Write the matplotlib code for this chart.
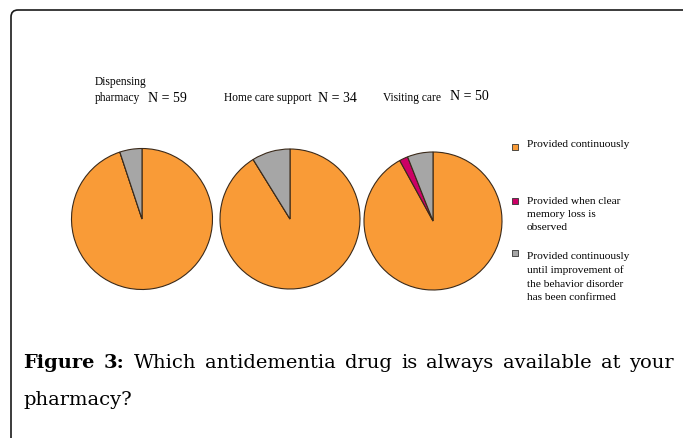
from matplotlib import pyplot as plt
from matplotlib.patches import FancyBboxPatch

# ---- data ----
groups = ["Dispensing\npharmacy", "Home care support", "Visiting care"]
group_n = [59, 34, 50]
categories = ["Provided continuously",
              "Provided when clear\nmemory loss is\nobserved",
              "Provided continuously\nuntil improvement of\nthe behavior disorder\nhas been confirmed"]
continuous = [56, 31, 46]
memory_loss = [0, 0, 1]
until_improved = [3, 3, 3]
colors = ["#f99b37", "#cc0066", "#a6a6a6"]
caption_bold = ["Figure", "3:"]
caption_words = ["Which", "antidementia", "drug", "is", "always", "available", "at", "your"]
caption_line2 = "pharmacy?"

W, H = 683, 439
fig = plt.figure(figsize=(W / 100, H / 100), dpi=100)
ax = fig.add_axes([0, 0, 1, 1])

# pie layout (pixel units, y measured from top)
centers = [(142, 220), (290, 220), (433, 222)]
radii = [70.5, 70, 69]
for i in range(3):
    vals = [continuous[i], memory_loss[i], until_improved[i]]
    cx, cy = centers[i]
    ax.pie(vals, colors=colors, startangle=90, counterclock=False,
           center=(cx, H - cy), radius=radii[i], frame=True,
           wedgeprops=dict(edgecolor="#3b2a1a", linewidth=0.8))

ax.set_xlim(0, W)
ax.set_ylim(0, H)
ax.set_aspect("equal")
ax.axis("off")

serif = "Liberation Serif"

# group titles
ax.text(95, H - 90, groups[0], fontsize=8.3, family=serif, va="center", linespacing=1.35)
ax.text(148, H - 98, "N = %d" % group_n[0], fontsize=10, family=serif, va="center")
ax.text(224, H - 98, groups[1], fontsize=8.3, family=serif, va="center")
ax.text(318, H - 98, "N = %d" % group_n[1], fontsize=10, family=serif, va="center")
ax.text(383, H - 98, groups[2], fontsize=8.3, family=serif, va="center")
ax.text(450, H - 97, "N = %d" % group_n[2], fontsize=10, family=serif, va="center")

# legend
key_y = [148, 202, 254]
text_y = [140, 197, 252]
for i in range(3):
    ax.scatter([515], [H - key_y[i]], marker="s", s=20, color=colors[i],
               edgecolor="#333333", linewidth=0.6, zorder=5)
    ax.text(527, H - text_y[i], categories[i], fontsize=8.2, family=serif,
            va="top", linespacing=1.6)

# rounded frame
frame = FancyBboxPatch((11, -30), 720, H - 11 + 30,
                       boxstyle="round,pad=0,rounding_size=7",
                       fill=False, edgecolor="#1a1a1a", linewidth=1.2)
ax.add_patch(frame)

# justified caption line
cap_font = "DejaVu Serif"
cap_size = 14
fig.canvas.draw()
r = fig.canvas.get_renderer()
items = []
for w in caption_bold:
    items.append(ax.text(0, H - 368, w, fontsize=cap_size, family=cap_font,
                         fontweight="bold", va="baseline"))
for w in caption_words:
    items.append(ax.text(0, H - 368, w, fontsize=cap_size, family=cap_font,
                         va="baseline"))
widths = [t.get_window_extent(r).width for t in items]
x0, x1 = 23, 674
gap = (x1 - x0 - sum(widths)) / (len(items) - 1)
x = x0
for t, w in zip(items, widths):
    t.set_x(x)
    x += w + gap
ax.text(x0, H - 405, caption_line2, fontsize=cap_size, family=cap_font, va="baseline")

fig.savefig("out.png", dpi=100)
